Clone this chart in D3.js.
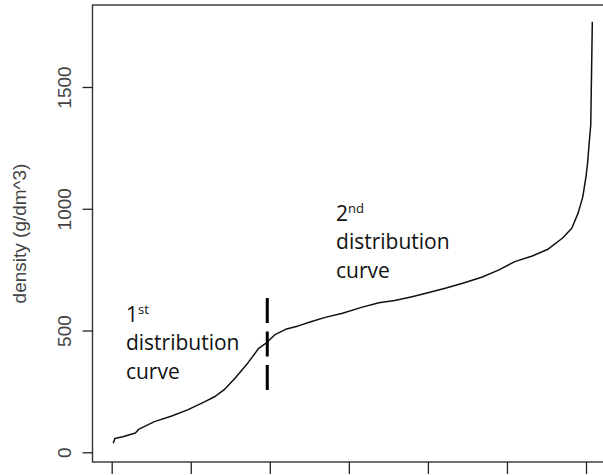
<!DOCTYPE html>
<html>
<head>
<meta charset="utf-8">
<script src="https://cdn.jsdelivr.net/npm/d3@7"></script>
<style>
  html, body { margin: 0; padding: 0; background: #fff; }
  svg { display: block; }
</style>
</head>
<body>
<svg id="chart" width="603" height="475"></svg>
<script>
// sorted density values (sample index -> g/dm^3)
const sampleIndex = [1, 2, 7, 15, 17, 27, 38, 48, 59, 65, 71, 78, 86, 93, 98, 103, 110, 118, 126, 135,
    146, 158, 169, 179, 190, 200, 211, 222, 234, 245, 255, 266, 276, 285, 291, 295, 298, 300, 301, 302, 303, 304];
const densityValues = [37, 57, 64, 79, 94, 126, 149, 174, 208, 228, 256, 304, 366, 427, 450, 482, 505, 519, 536, 554,
    571, 595, 614, 623, 639, 655, 674, 694, 719, 749, 783, 806, 834, 879, 920, 982, 1050, 1132, 1187, 1269, 1344, 1768];

const xTicks = [0, 50, 100, 150, 200, 250, 300];
const yTicks = [0, 500, 1000, 1500];
const yLabel = 'density (g/dm^3)';

// boundary between the two distributions
const splitIndex = 98.4;
const splitRange = [256, 634];

// annotation anchors, in data units
const notes = [
    { idx: 9, value: 536, num: '1', sup: 'st' },
    { idx: 141.9, value: 951, num: '2', sup: 'nd' }
];

document.addEventListener('DOMContentLoaded', () => {
    const svg = d3.select('#chart');
    const points = sampleIndex.map((d, i) => ({ idx: d, value: densityValues[i] }));

    const x = d3.scaleLinear().domain([0, 300]).range([111.7, 586]);
    const y = d3.scaleLinear().domain([0, 1500]).range([452.3, 87]);

    const box = { left: 92.5, top: 5, bottom: 462, right: 620 };

    // plot frame
    svg.append('rect')
        .attr('x', box.left)
        .attr('y', box.top)
        .attr('width', box.right - box.left)
        .attr('height', box.bottom - box.top)
        .attr('fill', 'none')
        .attr('stroke', '#333')
        .attr('stroke-width', 1.4);

    // x axis: ticks only
    const xAxis = svg.append('g')
        .attr('transform', `translate(0,${box.bottom})`)
        .call(d3.axisBottom(x).tickValues(xTicks).tickSize(12).tickFormat(''));
    xAxis.select('.domain').remove();
    xAxis.selectAll('line').attr('stroke', '#222').attr('stroke-width', 1.3);

    // y axis
    const yAxis = svg.append('g')
        .attr('transform', `translate(${box.left},0)`)
        .call(d3.axisLeft(y).tickValues(yTicks).tickSize(10).tickFormat(d3.format('d')));
    yAxis.select('.domain').remove();
    yAxis.selectAll('line').attr('stroke', '#222').attr('stroke-width', 1.3);
    yAxis.selectAll('text')
        .attr('x', 0)
        .attr('y', 0)
        .attr('dy', 0)
        .attr('transform', 'translate(-22,0) rotate(-90)')
        .attr('text-anchor', 'middle')
        .attr('font-family', '"Liberation Sans", Arial, sans-serif')
        .attr('font-size', 19)
        .attr('fill', '#444');

    svg.append('text')
        .attr('transform', `translate(25.5,${(box.top + box.bottom) / 2}) rotate(-90)`)
        .attr('text-anchor', 'middle')
        .attr('font-family', '"Liberation Sans", Arial, sans-serif')
        .attr('font-size', 19)
        .attr('fill', '#444')
        .text(yLabel);

    // curve
    const line = d3.line()
        .x(d => x(d.idx))
        .y(d => y(d.value));

    svg.append('path')
        .datum(points)
        .attr('d', line)
        .attr('fill', 'none')
        .attr('stroke', '#111')
        .attr('stroke-width', 1.5)
        .attr('stroke-linejoin', 'round');

    // dashed split marker
    svg.append('line')
        .attr('x1', x(splitIndex))
        .attr('x2', x(splitIndex))
        .attr('y1', y(splitRange[1]))
        .attr('y2', y(splitRange[0]))
        .attr('stroke', '#000')
        .attr('stroke-width', 3)
        .attr('stroke-dasharray', '25,8.5');

    // annotations
    notes.forEach(n => {
        const t = svg.append('text')
            .attr('x', x(n.idx))
            .attr('y', y(n.value))
            .attr('font-family', '"Open Sans", sans-serif')
            .attr('font-size', 21)
            .attr('fill', '#111');
        t.append('tspan').text(n.num);
        t.append('tspan').attr('font-size', 13).attr('dy', -8).text(n.sup);
        ['distribution', 'curve'].forEach((w, i) => {
            svg.append('text')
                .attr('x', x(n.idx))
                .attr('y', y(n.value) + 28.7 * (i + 1))
                .attr('font-family', '"Open Sans", sans-serif')
                .attr('font-size', 21)
                .attr('fill', '#111')
                .text(w);
        });
    });
});
</script>
</body>
</html>
